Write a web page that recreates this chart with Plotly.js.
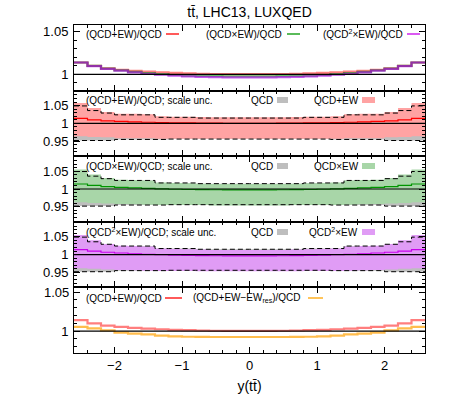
<!DOCTYPE html>
<html><head><meta charset="utf-8">
<script src="https://cdn.plot.ly/plotly-3.0.1.min.js"></script>
<style>html,body{margin:0;padding:0;background:#fff}</style>
</head><body><div id="chart" style="width:450px;height:407px"></div>
<script>
// ---------------- data ----------------
const binEdges = [-2.6,-2.4,-2.2,-2.0,-1.8,-1.6,-1.4,-1.2,-1.0,-0.8,-0.6,-0.4,-0.2,0.0,
                  0.2,0.4,0.6,0.8,1.0,1.2,1.4,1.6,1.8,2.0,2.2,2.4,2.6];
// (QCD+EW)/QCD
const rAdd   = [1.0140,1.0100,1.0070,1.0055,1.0042,1.0032,1.0024,1.0017,1.0012,1.0008,1.0005,1.0004,1.0003,
                1.0003,1.0004,1.0005,1.0008,1.0012,1.0017,1.0024,1.0032,1.0042,1.0055,1.0070,1.0100,1.0140];
// (QCDxEW)/QCD
const rMult  = [1.0140,1.0100,1.0068,1.0048,1.0030,1.0016,1.0004,0.9993,0.9986,0.9982,0.9979,0.9978,0.9977,
                0.9977,0.9978,0.9979,0.9982,0.9986,0.9993,1.0004,1.0016,1.0030,1.0048,1.0068,1.0100,1.0140];
// (QCD^2xEW)/QCD
const rMult2 = [1.0140,1.0098,1.0066,1.0045,1.0024,1.0008,0.9996,0.9985,0.9978,0.9972,0.9968,0.9966,0.9965,
                0.9965,0.9966,0.9968,0.9972,0.9978,0.9985,0.9996,1.0008,1.0024,1.0045,1.0066,1.0098,1.0140];
// (QCD+EW-EWres)/QCD
const rNoRes = [1.0055,1.0035,1.0010,0.9980,0.9967,0.9958,0.9942,0.9933,0.9928,0.9926,0.9925,0.9925,0.9925,
                0.9925,0.9925,0.9925,0.9926,0.9928,0.9933,0.9942,0.9958,0.9967,0.9980,1.0010,1.0035,1.0055];
// QCD scale uncertainty band
const qcdUp  = [1.049,1.036,1.029,1.024,1.024,1.024,1.017,1.017,1.017,1.015,1.015,1.015,1.015,
                1.015,1.015,1.015,1.015,1.017,1.017,1.017,1.024,1.024,1.024,1.029,1.036,1.049];
const qcdDn  = [0.952,0.952,0.952,0.955,0.955,0.955,0.955,0.956,0.956,0.956,0.956,0.956,0.956,
                0.956,0.956,0.956,0.956,0.956,0.956,0.955,0.955,0.955,0.955,0.952,0.952,0.952];
// QCD+EW scale band
const addUp  = [1.057,1.043,1.032,1.027,1.027,1.026,1.020,1.019,1.019,1.018,1.017,1.017,1.017,
                1.017,1.017,1.017,1.018,1.019,1.019,1.020,1.026,1.027,1.027,1.032,1.043,1.057];
const addDn  = [0.964,0.962,0.961,0.958,0.958,0.958,0.957,0.957,0.957,0.957,0.957,0.957,0.957,
                0.957,0.957,0.957,0.957,0.957,0.957,0.957,0.958,0.958,0.958,0.961,0.962,0.964];
// QCDxEW scale band
const multUp = [1.055,1.041,1.031,1.026,1.025,1.024,1.018,1.017,1.016,1.015,1.014,1.014,1.014,
                1.014,1.014,1.014,1.015,1.016,1.017,1.018,1.024,1.025,1.026,1.031,1.041,1.055];
const multDn = [0.963,0.961,0.959,0.958,0.957,0.956,0.955,0.955,0.955,0.955,0.954,0.954,0.954,
                0.954,0.954,0.954,0.955,0.955,0.955,0.955,0.956,0.957,0.958,0.959,0.961,0.963];
// QCD^2xEW scale band
const mult2Up = [1.055,1.040,1.030,1.025,1.024,1.023,1.017,1.016,1.015,1.014,1.013,1.013,1.013,
                 1.013,1.013,1.013,1.014,1.015,1.016,1.017,1.023,1.024,1.025,1.030,1.040,1.055];
const mult2Dn = [0.962,0.960,0.958,0.957,0.956,0.955,0.954,0.954,0.954,0.953,0.953,0.953,0.953,
                 0.953,0.953,0.953,0.953,0.954,0.954,0.954,0.955,0.956,0.957,0.958,0.960,0.962];

const xTickVals = [-2,-1,0,1,2];
const yTickVals5 = [1, 1.05];
const yTickText5 = ['1', '1.05'];

// ---------------- styling ----------------
const FONT = 'Liberation Sans, Arial, Helvetica, sans-serif';
const C = {
  red:'rgb(255,0,0)', green:'rgb(0,150,0)', purple:'rgb(200,0,235)', orange:'rgb(255,165,0)',
  gray:'rgb(190,190,190)', redBand:'rgb(255,163,163)', greenBand:'rgb(168,214,168)', purpleBand:'rgb(224,156,245)'
};
const step = v => v.concat([v[v.length-1]]);
const traces = [];
function line(ax, vals, color, width, dash){
  traces.push({type:'scatter', mode:'lines', x:binEdges, y:step(vals), xaxis:'x'+ax, yaxis:'y'+ax,
    line:{shape:'hv', color:color, width:width, dash:dash||'solid'},
    showlegend:false, hoverinfo:'skip'});
}
function band(ax, lo, hi, color){
  traces.push({type:'scatter', mode:'lines', x:binEdges, y:step(lo), xaxis:'x'+ax, yaxis:'y'+ax,
    line:{shape:'hv', width:0}, showlegend:false, hoverinfo:'skip'});
  traces.push({type:'scatter', mode:'lines', x:binEdges, y:step(hi), xaxis:'x'+ax, yaxis:'y'+ax,
    line:{shape:'hv', width:0}, fill:'tonexty', fillcolor:color, showlegend:false, hoverinfo:'skip'});
}
// panel 1
line('', rAdd, 'rgba(255,40,40,0.6)', 2.2);
line('', rMult, 'rgba(0,150,0,0.6)', 2.2);
line('', rMult2, 'rgba(170,0,230,0.65)', 2.2);
// panel 2
band('2', qcdDn, qcdUp, C.gray);
band('2', addDn, addUp, C.redBand);
line('2', qcdUp, 'black', 1, '5px,3px');
line('2', qcdDn, 'black', 1, '5px,3px');
line('2', rAdd, C.red, 1.2);
// panel 3
band('3', qcdDn, qcdUp, C.gray);
band('3', multDn, multUp, C.greenBand);
line('3', qcdUp, 'black', 1, '5px,3px');
line('3', qcdDn, 'black', 1, '5px,3px');
line('3', rMult, C.green, 1.2);
// panel 4
band('4', qcdDn, qcdUp, C.gray);
band('4', mult2Dn, mult2Up, C.purpleBand);
line('4', qcdUp, 'black', 1, '5px,3px');
line('4', qcdDn, 'black', 1, '5px,3px');
line('4', rMult2, C.purple, 1.2);
// panel 5
line('5', rAdd, 'rgba(255,40,40,0.6)', 2.2);
line('5', rNoRes, 'rgba(255,160,0,0.7)', 2.2);

// ---------------- layout ----------------
const L=74, R=425, T=25, B=353, W=450, H=407;
const px = x => (x-L)/(R-L);
const py = y => (B-y)/(B-T);

const yRanges = [[0.981,1.058],[0.908,1.092],[0.908,1.092],[0.908,1.092],[0.972,1.056]];
const layout = {
  width:W, height:H, margin:{l:L, r:W-R, t:T, b:H-B},
  paper_bgcolor:'white', plot_bgcolor:'white', showlegend:false,
  font:{family:FONT, size:13, color:'black'},
  title:{text:'tt\u0304, LHC13, LUXQED', x:px(249.5), xref:'paper', xanchor:'center',
         y:1-12/H, yanchor:'middle', font:{family:FONT, size:14, color:'black'}},
  annotations:[], shapes:[]
};
for (let i=1;i<=5;i++){
  const s = i===1 ? '' : String(i);
  layout['xaxis'+s] = {domain:[0,1], anchor:'y'+s, range:[-2.6,2.6], tickvals:xTickVals,
    ticks:'inside', ticklen:6, tickcolor:'black', mirror:'allticks', showline:true, linecolor:'black', linewidth:1,
    showgrid:false, zeroline:false, showticklabels:i===5, tickfont:{size:13},
    minor:{dtick:0.2, tick0:0, ticks:'inside', ticklen:3, tickcolor:'black', showgrid:false}};
  layout['yaxis'+s] = {domain:[(5-i)*0.2,(6-i)*0.2], anchor:'x'+s, range:yRanges[i-1],
    tick0:1, dtick:0.05, ticks:'inside', ticklen:6, tickcolor:'black', mirror:'allticks',
    showline:true, linecolor:'black', linewidth:1, showgrid:false, zeroline:false, tickfont:{size:13},
    ticklabelstandoff:2,
    minor:{dtick:0.01, tick0:1, ticks:'inside', ticklen:3, tickcolor:'black', showgrid:false}};
  layout.shapes.push({type:'line', xref:'x'+s+' domain', x0:0, x1:1, yref:'y'+s, y0:1, y1:1,
    line:{color:'black', width:1.2}});
}
// bottom panel: major ticks given explicitly; the upper label is drawn as an annotation
layout.yaxis5.tickmode = 'array';
layout.yaxis5.tickvals = yTickVals5;
layout.yaxis5.ticktext = ['1', ''];
layout.annotations.push({xref:'paper', yref:'y5', x:0, y:yTickVals5[1], xanchor:'right', yanchor:'middle',
  xshift:-3, text:yTickText5[1], showarrow:false, font:{family:FONT, size:13, color:'black'}});
layout.xaxis5.title = {text:'y(tt\u0304)', font:{size:14}, standoff:9};

function txt(x, y, t){
  layout.annotations.push({xref:'paper', yref:'paper', x:px(x), y:py(y), xanchor:'left', yanchor:'middle',
    text:t, showarrow:false, font:{family:FONT, size:10, color:'black'}});
}
function sample(x0, x1, y, color){
  layout.shapes.push({type:'line', xref:'paper', yref:'paper', x0:px(x0), x1:px(x1), y0:py(y), y1:py(y),
    line:{color:color, width:1.3}});
}
function box(x0, x1, y, color){
  layout.shapes.push({type:'rect', xref:'paper', yref:'paper', x0:px(x0), x1:px(x1), y0:py(y-3), y1:py(y+3),
    fillcolor:color, line:{width:0}});
}
// panel 1 keys
txt(84, 34, '(QCD+EW)/QCD'); sample(166,179,34,C.red);
txt(204, 34, '(QCD\u00d7EW)/QCD'); sample(287,300,34,C.green);
txt(321, 34, '(QCD<sup>2</sup>\u00d7EW)/QCD'); sample(407,420,34,C.purple);
// panel 2 keys
txt(84, 100, '(QCD+EW)/QCD; scale unc.'); txt(249, 100, 'QCD'); box(277,288,100,C.gray);
txt(312, 100, 'QCD+EW'); box(362,375,100,C.redBand);
// panel 3 keys
txt(84, 166, '(QCD\u00d7EW)/QCD; scale unc.'); txt(249, 166, 'QCD'); box(277,288,166,C.gray);
txt(312, 166, 'QCD\u00d7EW'); box(362,375,166,C.greenBand);
// panel 4 keys
txt(84, 232, '(QCD<sup>2</sup>\u00d7EW)/QCD; scale unc.'); txt(249, 232, 'QCD'); box(277,288,232,C.gray);
txt(307, 232, 'QCD<sup>2</sup>\u00d7EW'); box(362,375,232,C.purpleBand);
// panel 5 keys
txt(84, 298, '(QCD+EW)/QCD'); sample(165,182,298,C.red);
txt(191, 298, '(QCD+EW\u2212EW<sub>res</sub>)/QCD'); sample(308,323,298,C.orange);

Plotly.newPlot('chart', traces, layout, {staticPlot:true, displayModeBar:false});
</script>
</body></html>
